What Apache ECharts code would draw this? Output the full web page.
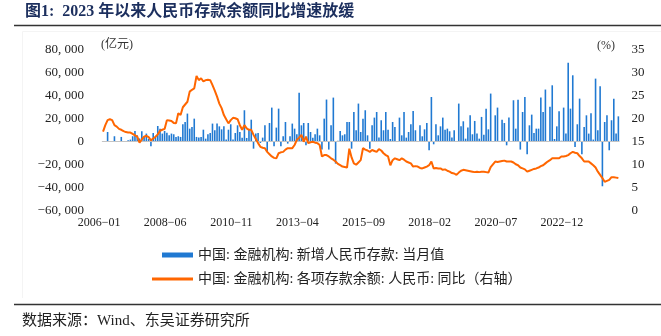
<!DOCTYPE html>
<html>
<head>
<meta charset="utf-8">
<script src="https://cdn.jsdelivr.net/npm/echarts@6/dist/echarts.min.js"></script>
<style>
  html, body { margin: 0; padding: 0; background: #fff; }
  #chart { width: 661px; height: 336px; }
</style>
</head>
<body>
<div id="chart"></div>
<script>
// Monthly series, 2006-01 .. 2024-11
const startYear = 2006;
const monthCount = 227;

// 新增人民币存款：当月值（亿元）; early months without a monthly figure are null
const newDeposits = [
  null, null, 8100, null, null, 4400, null, null, 3800, null, null, 900,
  1500, 4400, 9000, 5200, 2500, 8700, 3800, 6700, 2000, -4300, 7200, 3800,
  13300, 11000, 6700, 9000, 7500, 5200, 6700, 6100, 3800, 4400, 3800, 14800,
  16800, 24100, 11000, 12400, 19700, 3800, 3200, 3800, 10100, 2300, 6100, 7200,
  15400, 9600, 15400, 13000, 10400, 13000, 1500, 10100, 14800, 1500, 7200, 13900,
  8100, 3000, 27000, 2900, 10400, 18800, -6400, 6700, 7200, -1450, 3200, 13900,
  -8400, 15900, 29300, -4350, 11900, 28400, -4350, 4350, 16800, -2000, 4350, 15400,
  11000, 6100, 42300, 13900, 15900, -3500, 15900, 8100, 3000, 6100, 11000, 5200,
  -7200, 19700, 36300, -7200, 13900, 38000, -19400, 500, 9000, 5200, 6100, 16800,
  16800, -6400, 25500, 9600, 32800, 8100, 19700, 27000, 5200, -6400, 13900, 20600,
  25500, 3200, 18300, 9600, 25500, 10100, 2000, 16800, 12400, 300, 20600, 5200,
  25500, 3200, 8100, 14800, 26400, 9600, 300, 13900, 4350, 10400, 15900, -7800,
  38500, -2600, 14800, 5200, 13000, 20600, 10100, 11000, 8700, 3200, 9600, 300,
  32800, 13000, 17400, 2300, 11900, 22600, 6100, 17700, 6700, 2300, 21200, 5800,
  28400, 10400, 41500, 300, 22600, 29300, 300, 18800, 15900, -3500, 20600, 300,
  35700, 11000, 36200, -7200, 25500, 38500, -11300, 13900, 23200, 7200, 11000, 11000,
  38000, 25500, 45000, 300, 30100, 48700, 2000, 13000, 26100, 500, 29300, 6700,
  68400, 28400, 57400, -5000, 14800, 37100, -11300, 12400, 22600, 6700, 24300, 1500,
  54500, 9600, 47800, -39100, 16800, 22600, -7800, 18300, 37100, 6700, 21700
];

// 各项存款余额：人民币：同比（%）
const depositYoY = [
  17.1, 18.5, 19.6, 19.8, 19.6, 18.5, 18.2, 17.7, 17.5, 17.2, 17.0, 16.9,
  16.9, 16.6, 16.3, 16.0, 14.7, 15.4, 16.0, 16.2, 15.9, 15.2, 15.6, 16.0,
  16.5, 17.3, 17.5, 17.7, 19.6, 19.5, 19.4, 19.0, 18.9, 21.1, 20.7, 22.4,
  23.0, 23.6, 25.8, 26.2, 26.5, 29.2, 28.3, 28.7, 28.0, 28.3, 28.4, 28.3,
  27.2, 26.0, 24.7, 23.2, 22.2, 20.7, 19.8, 18.9, 19.6, 20.1, 20.0, 19.8,
  18.5, 17.5, 18.5, 17.8, 17.5, 17.5, 16.4, 15.5, 14.6, 13.8, 13.6, 13.5,
  12.7, 12.2, 11.7, 11.4, 11.3, 12.4, 12.6, 12.7, 13.2, 13.5, 13.5, 13.5,
  14.2, 15.3, 15.8, 16.4, 14.9, 16.0, 14.6, 14.8, 14.9, 14.7, 14.6, 14.2,
  11.7, 12.0, 12.0, 11.7, 11.3, 11.0, 10.6, 10.1, 9.8, 9.5, 9.4, 9.3,
  13.4, 11.5, 10.2, 9.9, 10.4, 10.9, 13.5, 13.2, 13.0, 12.7, 13.1, 12.9,
  12.7, 13.3, 13.0, 12.4, 12.0, 11.7, 9.8, 10.9, 11.3, 11.1, 10.9, 11.3,
  11.0, 10.6, 10.4, 10.2, 9.5, 9.6, 9.5, 9.2, 9.1, 9.3, 9.5, 9.8,
  10.6, 9.1, 9.2, 9.1, 9.1, 8.8, 8.9, 8.6, 8.4, 8.1, 8.0, 7.7,
  8.2, 8.6, 8.8, 8.7, 8.6, 8.5, 8.4, 8.3, 8.4, 8.3, 8.4, 8.4,
  8.3, 8.2, 9.4, 10.0, 10.6, 10.5, 10.6, 10.7, 10.8, 10.6, 10.6, 10.6,
  10.4, 10.0, 9.8, 9.3, 9.1, 8.9, 8.4, 8.6, 8.8, 9.0, 9.1, 9.3,
  9.6, 9.8, 10.2, 10.6, 10.9, 11.3, 11.3, 11.3, 11.3, 11.7, 11.7, 11.8,
  12.0, 12.4, 12.7, 12.5, 12.4, 11.8, 11.3, 10.6, 10.6, 10.6, 10.2, 9.8,
  9.3, 8.4, 7.7, 7.0, 6.2, 6.4, 6.6, 7.2, 7.2, 7.1, 7.0
];

const barName = '中国: 金融机构: 新增人民币存款: 当月值';
const lineName = '中国: 金融机构: 各项存款余额: 人民币: 同比（右轴）';

// Category labels "YYYY-MM"
const months = [];
for (let i = 0; i < monthCount; i++) {
  const y = startYear + Math.floor(i / 12);
  const m = (i % 12) + 1;
  months.push(y + '-' + (m < 10 ? '0' + m : '' + m));
}

const serif = '"Liberation Serif", "Noto Sans CJK SC", serif';

function fmtThousands(v) {
  const s = Math.abs(v).toString().replace(/\B(?=(\d{3})+(?!\d))/g, ', ');
  return (v < 0 ? '\u2212' : '') + s;
}

const chart = echarts.init(document.getElementById('chart'), null, { renderer: 'canvas' });

chart.setOption({
  animation: false,
  backgroundColor: '#ffffff',
  grid: { left: 101.9, right: 41.5, top: 49.3, height: 161, containLabel: false },
  legend: [
    {
      data: [barName], left: 162, top: 248, padding: 0,
      icon: 'rect', itemWidth: 31, itemHeight: 5,
      textStyle: { fontFamily: serif, fontSize: 14, color: '#222' }
    },
    {
      data: [lineName], left: 152, top: 272, padding: 0,
      icon: 'rect', itemWidth: 41, itemHeight: 3,
      textStyle: { fontFamily: serif, fontSize: 14, color: '#222' }
    }
  ],
  xAxis: {
    type: 'category',
    data: months,
    boundaryGap: true,
    axisLine: { show: false, onZero: false },
    axisTick: { show: false },
    splitLine: { show: false },
    axisLabel: {
      interval: 28,
      margin: 7,
      padding: [0, 8, 0, 0],
      fontFamily: serif,
      fontSize: 12,
      color: '#222',
      formatter: function (v) { return v.replace('-', '\u2212'); }
    }
  },
  yAxis: [
    {
      type: 'value', min: -60000, max: 80000, interval: 20000,
      axisLine: { show: false }, axisTick: { show: false }, splitLine: { show: false },
      axisLabel: {
        margin: 18, fontFamily: serif, fontSize: 13, color: '#222',
        formatter: fmtThousands
      }
    },
    {
      type: 'value', min: 0, max: 35, interval: 5, position: 'right',
      axisLine: { show: false }, axisTick: { show: false }, splitLine: { show: false },
      axisLabel: { margin: 12, fontFamily: serif, fontSize: 13, color: '#222' }
    }
  ],
  series: [
    {
      name: barName,
      type: 'bar',
      data: newDeposits,
      barWidth: '70%',
      itemStyle: { color: '#2079d2' },
      markLine: {
        silent: true,
        symbol: ['none', 'none'],
        label: { show: false },
        lineStyle: { color: '#c4c4c4', width: 1, type: 'solid' },
        data: [{ yAxis: 0 }]
      }
    },
    {
      name: lineName,
      type: 'line',
      yAxisIndex: 1,
      data: depositYoY,
      showSymbol: false,
      symbol: 'none',
      z: 5,
      itemStyle: { color: '#ff6600' },
      lineStyle: { color: '#ff6600', width: 2 }
    }
  ],
  graphic: [
    {
      type: 'text', left: 25, top: 4,
      style: {
        text: '图1:  2023 年以来人民币存款余额同比增速放缓',
        font: 'bold 16px ' + serif, fill: '#1c2f5e'
      }
    },
    {
      type: 'line', shape: { x1: 14, y1: 25.5, x2: 661, y2: 25.5 },
      style: { stroke: '#333', lineWidth: 1.6 }
    },
    {
      type: 'polyline', shape: { points: [[22.5, 298], [22.5, 31.5], [661, 31.5]] },
      style: { stroke: '#f4f4f4', lineWidth: 1, fill: null }
    },
    {
      type: 'text', left: 101, top: 39,
      style: { text: '(亿元)', font: '12px ' + serif, fill: '#333' }
    },
    {
      type: 'text', left: 597, top: 40,
      style: { text: '(%)', font: '12px ' + serif, fill: '#333' }
    },
    {
      type: 'line', shape: { x1: 14, y1: 304.5, x2: 661, y2: 304.5 },
      style: { stroke: '#333', lineWidth: 1.6 }
    },
    {
      type: 'text', left: 22, top: 314,
      style: { text: '数据来源：Wind、东吴证券研究所', font: '15px ' + serif, fill: '#222' }
    }
  ]
});
</script>
</body>
</html>
